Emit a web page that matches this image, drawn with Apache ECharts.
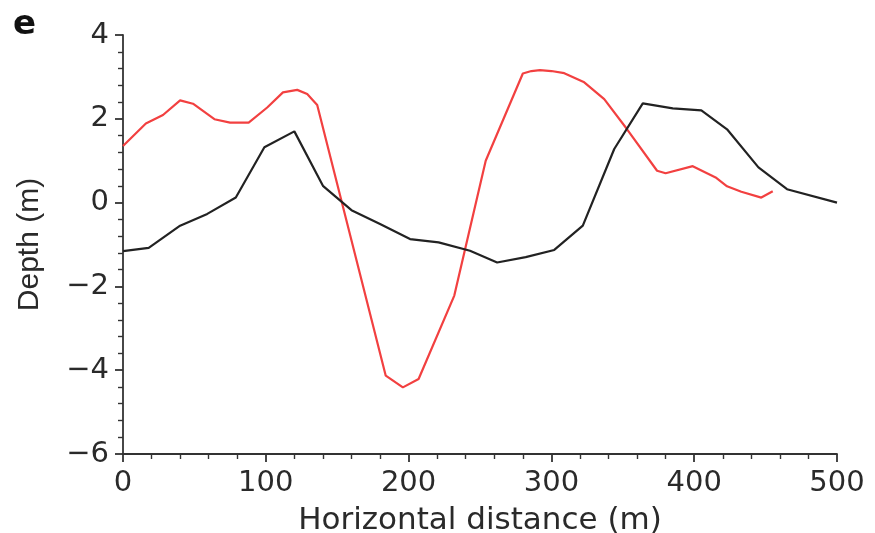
<!DOCTYPE html>
<html>
<head>
<meta charset="utf-8">
<script src="https://cdn.jsdelivr.net/npm/echarts@6/dist/echarts.min.js"></script>
<style>
  html, body { margin: 0; padding: 0; background: #fff; }
</style>
</head>
<body>
<div id="main" style="width: 875px; height: 533px;"></div>
<script>
// profile 1 (black) - distance (m), depth (m)
var blackX = [0, 18, 40, 59, 79, 99, 120, 140, 160, 180, 201, 221, 243, 262, 282, 302, 322, 344, 364, 385, 405, 423, 445, 465, 500]
var blackY = [-1.16, -1.08, -0.55, -0.27, 0.12, 1.32, 1.70, 0.40, -0.18, -0.51, -0.87, -0.95, -1.15, -1.43, -1.30, -1.13, -0.55, 1.28, 2.37, 2.25, 2.20, 1.75, 0.84, 0.32, 0.00]
// profile 2 (red)
var redX = [0, 16, 28, 40, 49, 64, 75, 88, 101, 112, 122, 129, 136, 184, 196, 207, 232, 254, 280, 286, 292, 300, 309, 323, 337, 353, 374, 380, 399, 415, 423, 433, 447, 455]
var redY = [1.35, 1.89, 2.09, 2.44, 2.36, 1.99, 1.91, 1.91, 2.27, 2.63, 2.69, 2.59, 2.33, -4.13, -4.41, -4.21, -2.22, 1.00, 3.08, 3.14, 3.16, 3.14, 3.09, 2.87, 2.47, 1.75, 0.76, 0.70, 0.87, 0.60, 0.39, 0.26, 0.12, 0.27]
var xTicks = [0, 100, 200, 300, 400, 500]
var yTicks = [-6, -4, -2, 0, 2, 4]

function pairs (xs, ys) {
  var out = []
  for (var i = 0; i < xs.length; i++) {
    out.push([xs[i], ys[i]])
  }
  return out
}

// the source figure is a bit wider than tall, so the horizontal texts use a wider face
var wideFont = '"DejaVu Sans", sans-serif'
var narrowFont = '"Liberation Sans", Arial, sans-serif'
var axisCol = '#333'
var textCol = '#2a2a2a'

var chart = echarts.init(document.getElementById('main'))
chart.setOption({
  animation: false,
  title: {
    text: 'e',
    left: 8,
    top: 3,
    textStyle: { fontFamily: wideFont, fontWeight: 'bold', fontSize: 34, color: '#111' }
  },
  grid: {
    left: 123,
    right: 38,
    top: 35,
    bottom: 79,
    containLabel: false,
    outerBoundsMode: 'none'
  },
  xAxis: {
    type: 'value',
    min: xTicks[0],
    max: xTicks[xTicks.length - 1],
    interval: 100,
    name: 'Horizontal distance (m)',
    nameLocation: 'middle',
    nameGap: 51,
    nameTextStyle: { fontFamily: wideFont, fontSize: 31, color: textCol },
    axisLine: { onZero: false, lineStyle: { color: axisCol, width: 1.8 } },
    axisTick: { inside: false, length: 8, lineStyle: { color: axisCol, width: 1.8 } },
    minorTick: { show: true, splitNumber: 5, length: 5, lineStyle: { color: axisCol, width: 1.4 } },
    axisLabel: { fontFamily: wideFont, fontSize: 29, color: textCol, margin: 15 },
    splitLine: { show: false }
  },
  yAxis: {
    type: 'value',
    min: yTicks[0],
    max: yTicks[yTicks.length - 1],
    interval: 2,
    name: 'Depth (m)',
    nameLocation: 'middle',
    nameGap: 78,
    nameRotate: 90,
    nameTextStyle: { fontFamily: narrowFont, fontSize: 30, color: textCol },
    axisLine: { show: true, onZero: false, lineStyle: { color: axisCol, width: 1.8 } },
    axisTick: { show: true, inside: false, length: 8, lineStyle: { color: axisCol, width: 1.8 } },
    minorTick: { show: true, splitNumber: 5, length: 5, lineStyle: { color: axisCol, width: 1.4 } },
    axisLabel: {
      fontFamily: wideFont,
      fontSize: 29,
      color: textCol,
      margin: 14,
      formatter: function (v) { return v < 0 ? '\u2212' + Math.abs(v) : String(v) }
    },
    splitLine: { show: false }
  },
  series: [
    {
      type: 'line',
      data: pairs(redX, redY),
      showSymbol: false,
      symbol: 'none',
      lineStyle: { color: '#f24040', width: 2.2 },
      z: 2
    },
    {
      type: 'line',
      data: pairs(blackX, blackY),
      showSymbol: false,
      symbol: 'none',
      lineStyle: { color: '#222', width: 2.2 },
      z: 3
    }
  ]
})
</script>
</body>
</html>
